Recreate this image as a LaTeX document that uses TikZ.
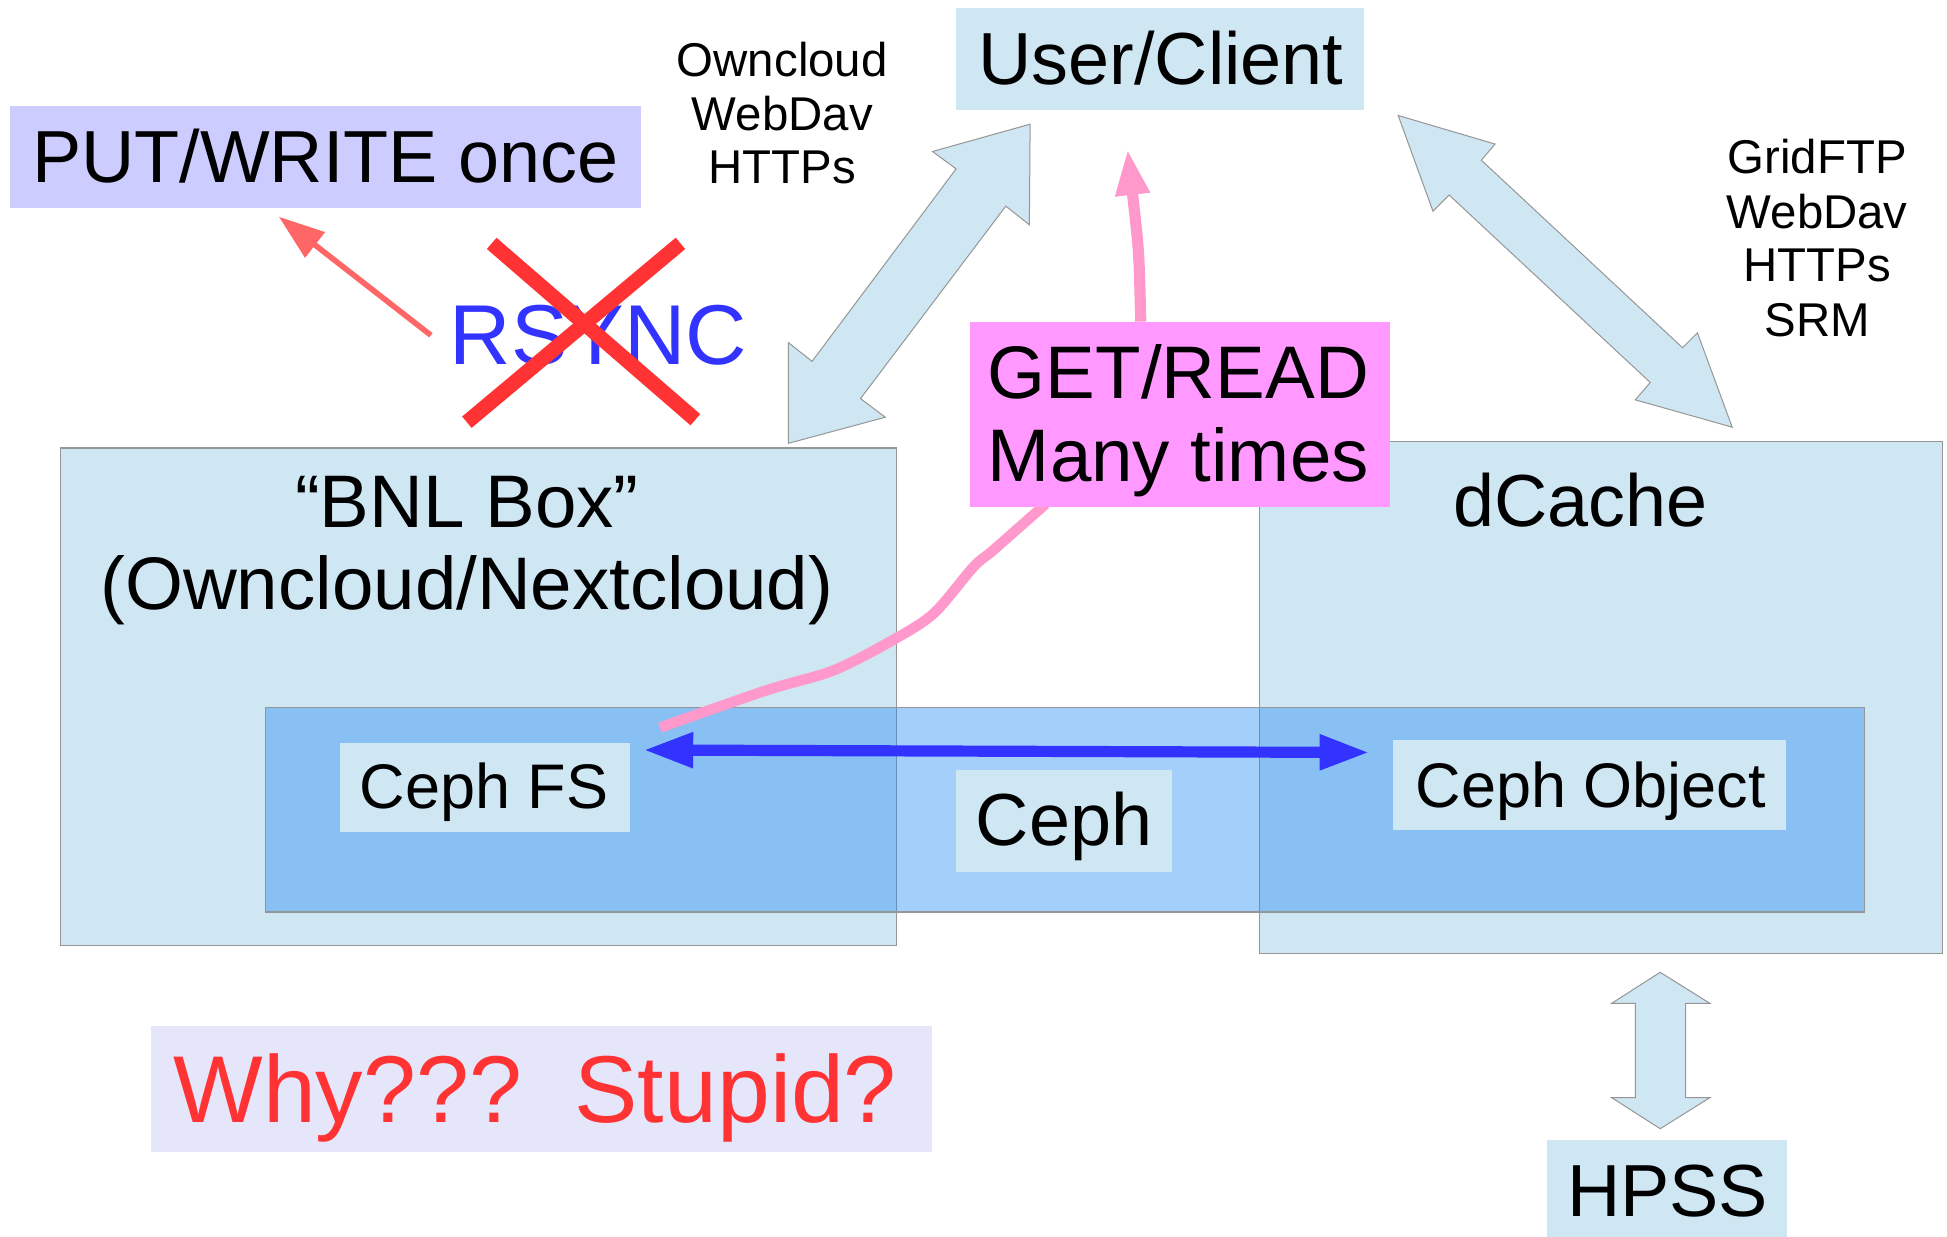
\documentclass[tikz,border=0pt]{standalone}
\usepackage{fontspec}
\setmainfont{Liberation Sans}
\usetikzlibrary{arrows.meta,fit}
\definecolor{lblue}{RGB}{207,230,243}
\definecolor{cephc}{RGB}{30,137,245}
\definecolor{putc}{RGB}{204,204,255}
\definecolor{whyc}{RGB}{230,230,250}
\definecolor{redc}{RGB}{255,51,51}
\definecolor{bluec}{RGB}{51,51,255}
\definecolor{salmonc}{RGB}{255,102,102}
\definecolor{getc}{RGB}{255,153,255}
\definecolor{pinkc}{RGB}{255,153,204}
\definecolor{edgec}{RGB}{150,150,150}
\newcommand\myfs[1]{\fontsize{#1pt}{#1pt}\selectfont}
\begin{document}
\begin{tikzpicture}[x=0.62085pt,y=-0.62085pt,
  lbox/.style={fill=lblue,inner sep=0pt,outer sep=0pt},
  bigbox/.style={fill=lblue,draw=edgec,line width=0.6pt,inner sep=0pt,outer sep=0pt},
  txt/.style={inner sep=0pt,anchor=base},
  barrow/.style={fill=lblue,draw=edgec,line width=0.5pt,line join=miter},
  bigtxt/.style={txt,font=\myfs{36.9}},
  smalltxt/.style={txt,font=\myfs{23.7}},
  midtxt/.style={txt,font=\myfs{31.5}},
]
\useasboundingbox (0,0) rectangle (1568,996);
\fill[white] (0,0) rectangle (1568,996);

% large containers
\node[bigbox,fit={(48.5,360.8) (721.8,761.5)}] (bnl) {};
\node[bigbox,fit={(1014.6,355.6) (1564.4,768)}] (dcache) {};
\node[draw=edgec,line width=0.6pt,fill=cephc,fill opacity=0.4,inner sep=0pt,fit={(214,570) (1501.5,734.4)}] (ceph) {};

% label boxes
\node[lbox,fit={(274,598) (507,670)}] (cephfsbox) {};
\node[lbox,fit={(770,620) (944,702)}] (cephbox) {};
\node[lbox,fit={(1122,596) (1438,668.5)}] (cephobjbox) {};
\node[lbox,fit={(1246,918) (1439.5,996)}] (hpssbox) {};
\node[lbox,fit={(770,6.7) (1098.5,88.6)}] (userbox) {};
\node[fill=putc,inner sep=0pt,fit={(8,85.5) (516,167.5)}] (putbox) {};
\node[fill=whyc,inner sep=0pt,fit={(122,826) (750.4,928)}] (whybox) {};

% blue double arrow between Ceph FS and Ceph Object
\coordinate (cfsend) at (518,604);
\coordinate (cobend) at (1103,606);
\draw[bluec,line width=5.6pt,{Triangle[length=25pt,width=16.5pt]}-{Triangle[length=25pt,width=16.5pt]}] (cfsend) -- (cobend);

% pink curve from Ceph FS to GET box
\coordinate (pinkstart) at (531.5,586);
\coordinate (getbot) at (842,406);
\draw[pinkc,line width=5.2pt] plot[smooth,tension=0.5] coordinates {(pinkstart) (617,556) (671,540) (719,515.5) (752,494) (784,456.5) (800,443) (getbot)};

\node[fill=getc,inner sep=0pt,fit={(781.5,259) (1119.5,408.5)}] (getbox) {};

% pink arrow up to the user
\coordinate (gettop) at (918.7,259);
\coordinate (pinktip) at (908,120);
\draw[pinkc,line width=5.6pt,-{Triangle[length=23pt,width=16pt]}] (gettop) -- (918,232) .. controls (917,200) .. (pinktip);

% salmon arrow to PUT/WRITE
\coordinate (sals) at (347,270);
\coordinate (salt) at (224.5,174.5);
\draw[salmonc,line width=2.8pt,-{Triangle[length=23pt,width=15.5pt]}] (sals) -- (salt);

% block arrows
\draw[barrow] (829.6,100) -- (829,181) -- (810,166) -- (693,321) -- (713,336) -- (635,357) -- (635,276) -- (654,291) -- (770,136) -- (751,122) -- cycle;
\draw[barrow] (1126,93) -- (1204,116) -- (1193,129) -- (1355,280) -- (1367,268) -- (1395,344) -- (1317,322) -- (1329,308) -- (1167,157) -- (1154,170) -- cycle;
\draw[barrow] (1337,783) -- (1377,808) -- (1357.5,808) -- (1357.5,884) -- (1377,884) -- (1337,909) -- (1298,884) -- (1317,884) -- (1317,808) -- (1298,808) -- cycle;

% texts
\node[bigtxt] (puttxt) at (262,147) {PUT/WRITE once};
\node[smalltxt] (p1) at (630,61.2) {Owncloud};
\node[smalltxt] (p2) at (630,104.7) {WebDav};
\node[smalltxt] (p3) at (630,147.6) {HTTPs};
\node[bigtxt] (usertxt) at (935,67.9) {User/Client};
\node[smalltxt] (g1) at (1463.5,140) {GridFTP};
\node[smalltxt] (g2) at (1463.5,184) {WebDav};
\node[smalltxt] (g3) at (1463.5,226.8) {HTTPs};
\node[smalltxt] (g4) at (1463.5,270.6) {SRM};
\node[txt,font=\myfs{42.5},text=bluec] (rsync) at (482,293.4) {RSYNC};
\node[txt,font=\myfs{37.25}] (get1) at (949,320.8) {GET/READ};
\node[txt,font=\myfs{37.25}] (get2) at (949,387.8) {Many times};
\node[txt,font=\myfs{37.25}] (bnl1) at (376,425) {“BNL Box”};
\node[txt,font=\myfs{37.25}] (bnl2) at (376,491) {(Owncloud/Nextcloud)};
\node[bigtxt] (dctxt) at (1272.6,424) {dCache};
\node[midtxt] (cfstxt) at (390,651) {Ceph FS};
\node[bigtxt] (cephtxt) at (857,681.2) {Ceph};
\node[midtxt] (cobtxt) at (1281,650) {Ceph Object};
\node[bigtxt] (hpsstxt) at (1343,979.6) {HPSS};
\node[txt,font=\myfs{47.5},text=redc] (whytxt) at (431,904.2) {Why???\ \ Stupid?};

% red cross over RSYNC
\draw[redc,line width=7.4pt] (376,340) -- (548,196);
\draw[redc,line width=7.4pt] (396,196) -- (560,338);
\end{tikzpicture}
\end{document}
